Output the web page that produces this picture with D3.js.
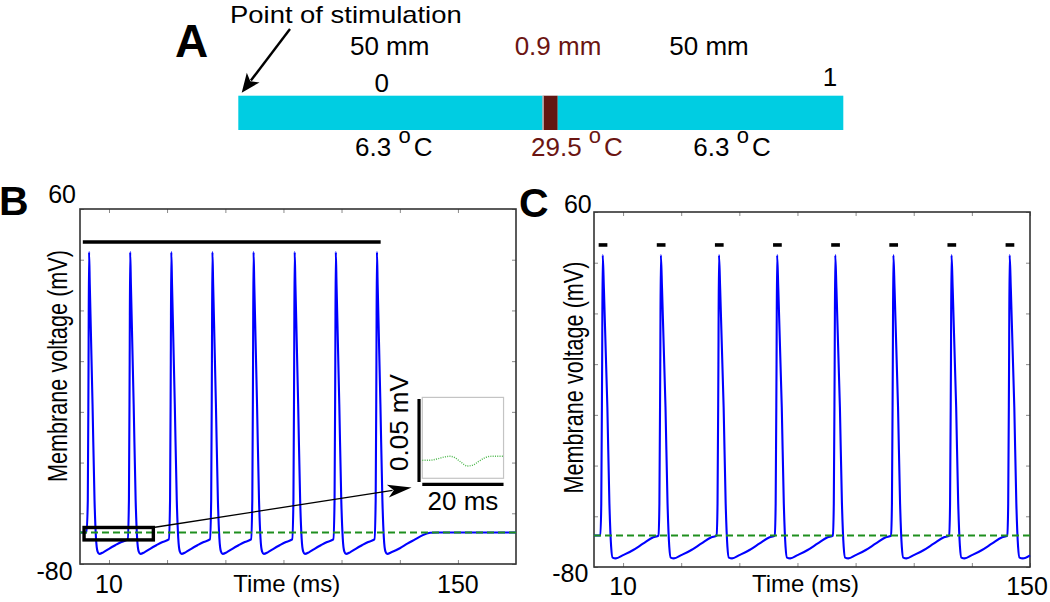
<!DOCTYPE html>
<html><head><meta charset="utf-8">
<script src="https://cdn.jsdelivr.net/npm/d3@7"></script>
<style>
body{margin:0;background:#fff}
svg{display:block;font-family:"Liberation Sans",Arial,Helvetica,sans-serif}
</style>
</head><body>
<svg id="fig" width="1050" height="602"></svg>
<script>
// ---------------- DATA ----------------
// Panel A: axon segments (normalised position along the axon)
const segStart   = [0, 0.503, 0.528];
const segEnd     = [0.503, 0.528, 1];
const segLength  = ["50 mm", "0.9 mm", "50 mm"];
const segTemp    = ["6.3", "29.5", "6.3"];
const hotSegment = 1;
const endLabels  = ["0", "1"];

// Shared axis ticks
const voltTicks      = [-80, -60, -40, -20, 0, 20, 40, 60];
const voltTickLabels = ["-80", "", "", "", "", "", "", "60"];
const timeTicksB      = [10, 33.3, 56.7, 80, 103.3, 126.7, 150];
const timeTickLabelsB = ["10", "", "", "", "", "", "150"];
const timeTicksC      = [10, 30, 50, 70, 90, 110, 130, 150];
const timeTickLabelsC = ["10", "", "", "", "", "", "", "150"];
const restPotential = -67.6;   // green dashed line (mV)
const stimLevel = 47;          // height of stimulus bars (mV)

// Panel B: membrane voltage trace [time ms, mV]
const traceB = [
 [-1.63,-67.6],[1.0,-67.6],[1.5,-55],[1.8,0],[2.0,43],[2.3,30],[3.4,-17],[4.2,-55],[4.8,-70],[5.4,-75],[6.1,-76],[7.7,-75.4],[10.0,-74.0],[12.5,-72.6],[15.0,-71.3],
 [17.5,-70.3],[18.0,-55],[18.3,0],[18.5,43],[18.8,30],[19.9,-17],[20.7,-55],[21.3,-70],[21.9,-75],[22.6,-76],[24.2,-75.4],[26.5,-74.0],[29.0,-72.6],[31.5,-71.3],
 [34.0,-70.3],[34.5,-55],[34.8,0],[35.0,43],[35.3,30],[36.4,-17],[37.2,-55],[37.8,-70],[38.4,-75],[39.1,-76],[40.7,-75.4],[43.0,-74.0],[45.5,-72.6],[48.0,-71.3],
 [50.5,-70.3],[51.0,-55],[51.3,0],[51.5,43],[51.8,30],[52.9,-17],[53.7,-55],[54.3,-70],[54.9,-75],[55.6,-76],[57.2,-75.4],[59.5,-74.0],[62.0,-72.6],[64.5,-71.3],
 [67.0,-70.3],[67.5,-55],[67.8,0],[68.0,43],[68.3,30],[69.4,-17],[70.2,-55],[70.8,-70],[71.4,-75],[72.1,-76],[73.7,-75.4],[76.0,-74.0],[78.5,-72.6],[81.0,-71.3],
 [83.5,-70.3],[84.0,-55],[84.3,0],[84.5,43],[84.8,30],[85.9,-17],[86.7,-55],[87.3,-70],[87.9,-75],[88.6,-76],[90.2,-75.4],[92.5,-74.0],[95.0,-72.6],[97.5,-71.3],
 [100.0,-70.3],[100.5,-55],[100.8,0],[101.0,43],[101.3,30],[102.4,-17],[103.2,-55],[103.8,-70],[104.4,-75],[105.1,-76],[106.7,-75.4],[109.0,-74.0],[111.5,-72.6],[114.0,-71.3],
 [116.5,-70.3],[117.0,-55],[117.3,0],[117.5,43],[117.8,30],[118.9,-17],[119.7,-55],[120.3,-70],[120.9,-75],[121.6,-76],
 [123.5,-75.3],[126.7,-73.8],[129.7,-72.0],[132.8,-70.3],[135.5,-68.8],[138.8,-67.7],[142.0,-67.6],[173.3,-67.6]
];
const stimB = [[-0.5, 119]];
const zoomBoxT = [0, 27.8];
const zoomBoxV = [-70.5, -65.6];

// Panel B inset: deviation trace (ms, mV)
const insetTime = [0, 2, 4, 5.5, 6.8, 8, 9.5, 11.1, 12.5, 14, 15.5, 17, 20];
const insetVolt = [0.0111, 0.0112, 0.0122, 0.0132, 0.0136, 0.0128, 0.0100, 0.0076, 0.0082, 0.0106, 0.0128, 0.0136, 0.0136];

// Panel C: membrane voltage trace [time ms, mV]
const traceC = [
 [0,-67.6],[2.2,-67.6],[2.5,-55],[2.8,0],[3.0,43],[3.4,30],[4.6,-17],[5.3,-55],[5.9,-72],[6.4,-76.3],[7.5,-76.6],[10.0,-75.3],[13.5,-73.3],[17.0,-70.7],[20.4,-68.3],
 [22.2,-67.6],[22.5,-55],[22.8,0],[23.0,43],[23.4,30],[24.6,-17],[25.3,-55],[25.9,-72],[26.4,-76.3],[27.5,-76.6],[30.0,-75.3],[33.5,-73.3],[37.0,-70.7],[40.4,-68.3],
 [42.2,-67.6],[42.5,-55],[42.8,0],[43.0,43],[43.4,30],[44.6,-17],[45.3,-55],[45.9,-72],[46.4,-76.3],[47.5,-76.6],[50.0,-75.3],[53.5,-73.3],[57.0,-70.7],[60.4,-68.3],
 [62.2,-67.6],[62.5,-55],[62.8,0],[63.0,43],[63.4,30],[64.6,-17],[65.3,-55],[65.9,-72],[66.4,-76.3],[67.5,-76.6],[70.0,-75.3],[73.5,-73.3],[77.0,-70.7],[80.4,-68.3],
 [82.2,-67.6],[82.5,-55],[82.8,0],[83.0,43],[83.4,30],[84.6,-17],[85.3,-55],[85.9,-72],[86.4,-76.3],[87.5,-76.6],[90.0,-75.3],[93.5,-73.3],[97.0,-70.7],[100.4,-68.3],
 [102.2,-67.6],[102.5,-55],[102.8,0],[103.0,43],[103.4,30],[104.6,-17],[105.3,-55],[105.9,-72],[106.4,-76.3],[107.5,-76.6],[110.0,-75.3],[113.5,-73.3],[117.0,-70.7],[120.4,-68.3],
 [122.2,-67.6],[122.5,-55],[122.8,0],[123.0,43],[123.4,30],[124.6,-17],[125.3,-55],[125.9,-72],[126.4,-76.3],[127.5,-76.6],[130.0,-75.3],[133.5,-73.3],[137.0,-70.7],[140.4,-68.3],
 [142.2,-67.6],[142.5,-55],[142.8,0],[143.0,43],[143.4,30],[144.6,-17],[145.3,-55],[145.9,-72],[146.4,-76.3],[147.5,-76.6],[150.0,-75.4]
];
const stimC = [[1.6,4.6],[21.6,24.6],[41.6,44.6],[61.6,64.6],[81.6,84.6],[101.6,104.6],[121.6,124.6],[141.6,144.6]];

// ---------------- DRAWING ----------------
const svg = d3.select("#fig");
const BROWN = "#6b1512";

function arrow(g, x1, y1, x2, y2, len, half, width) {
  const a = Math.atan2(y2 - y1, x2 - x1);
  const c = Math.cos(a), s = Math.sin(a);
  const bx = x2 - len * c, by = y2 - len * s;
  const px = -s * half, py = c * half;
  g.append("line").attr("x1", x1).attr("y1", y1).attr("x2", bx + len * 0.2 * c).attr("y2", by + len * 0.2 * s)
    .attr("stroke", "#000").attr("stroke-width", width);
  g.append("path").attr("d", `M${x2},${y2}L${bx+px},${by+py}L${bx+len*0.25*c},${by+len*0.25*s}L${bx-px},${by-py}Z`)
    .attr("fill", "#000");
}

// ---------- Panel A ----------
const gA = svg.append("g");
const axonX = d3.scaleLinear().domain([0, 1]).range([238.3, 843.3]);
const barTop = 95.7, barBot = 130;
gA.selectAll("rect.seg").data(segStart).join("rect").attr("class", "seg")
  .attr("x", d => axonX(d)).attr("width", (d, i) => axonX(segEnd[i]) - axonX(d))
  .attr("y", barTop).attr("height", barBot - barTop)
  .attr("fill", (d, i) => i === hotSegment ? "#621712" : "#00cde2");
gA.append("line").attr("x1", axonX(segStart[hotSegment]) + 0.5).attr("x2", axonX(segStart[hotSegment]) + 0.5)
  .attr("y1", barTop).attr("y2", barBot).attr("stroke", "#e8f4f4").attr("stroke-width", 1);

gA.append("text").attr("x", 175).attr("y", 56.7).attr("font-size", 46).attr("font-weight", "bold").text("A");
gA.append("text").attr("x", 230).attr("y", 23).attr("font-size", 24)
  .attr("textLength", 231.7).attr("lengthAdjust", "spacingAndGlyphs").text("Point of stimulation");
arrow(gA, 290, 29, 241.7, 92.7, 19, 8, 2.4);

const lenX = [389.7, 558, 709];
gA.selectAll("text.len").data(segLength).join("text").attr("class", "len")
  .attr("x", (d, i) => lenX[i]).attr("y", 55).attr("font-size", 26).attr("text-anchor", "middle")
  .attr("fill", (d, i) => i === hotSegment ? BROWN : "#000").text(d => d);

const endX = [381.7, 830], endY = [91.7, 85.7];
gA.selectAll("text.end").data(endLabels).join("text").attr("class", "end")
  .attr("x", (d, i) => endX[i]).attr("y", (d, i) => endY[i]).attr("font-size", 26)
  .attr("text-anchor", "middle").text(d => d);

const tempX = [355, 531, 693.3];
segTemp.forEach((t, i) => {
  const tx = gA.append("text").attr("x", tempX[i]).attr("y", 155.7).attr("font-size", 26)
    .attr("fill", i === hotSegment ? BROWN : "#000");
  tx.append("tspan").text(t + " ");
  tx.append("tspan").attr("font-size", 22).attr("dy", -12.5).text("o");
  tx.append("tspan").attr("dy", 12.5).attr("dx", 3).text("C");
});

// ---------- Panels B and C ----------
function panel(cfg) {
  const g = svg.append("g");
  const x = d3.scaleLinear().domain(cfg.xDomain).range([cfg.left, cfg.right]);
  const y = d3.scaleLinear().domain([-80, 60]).range([cfg.bottom, cfg.top]);

  const tick = (sel) => { sel.select(".domain").remove(); sel.selectAll("line").attr("stroke", "#8a8a8a").attr("stroke-width", 1); };
  g.append("g").attr("transform", `translate(0,${cfg.bottom})`).call(d3.axisBottom(x).tickValues(cfg.xTicks).tickSize(-4).tickFormat("")).call(tick);
  g.append("g").attr("transform", `translate(0,${cfg.top})`).call(d3.axisTop(x).tickValues(cfg.xTicks).tickSize(-4).tickFormat("")).call(tick);
  g.append("g").attr("transform", `translate(${cfg.left},0)`).call(d3.axisLeft(y).tickValues(voltTicks).tickSize(-4).tickFormat("")).call(tick);
  g.append("g").attr("transform", `translate(${cfg.right},0)`).call(d3.axisRight(y).tickValues(voltTicks).tickSize(-4).tickFormat("")).call(tick);

  g.append("rect").attr("x", cfg.left).attr("y", cfg.top).attr("width", cfg.right - cfg.left).attr("height", cfg.bottom - cfg.top)
    .attr("fill", "none").attr("stroke", "#333").attr("stroke-width", 1.6);

  const ln = d3.line().x(d => x(d[0])).y(d => y(d[1])).curve(d3.curveMonotoneX);
  g.append("path").datum(cfg.trace).attr("d", ln).attr("fill", "none").attr("stroke", "#0000ff")
    .attr("stroke-width", 2.1).attr("stroke-linejoin", "round");

  g.append("line").attr("x1", x(cfg.xDomain[0])).attr("x2", x(cfg.xDomain[1]))
    .attr("y1", y(restPotential)).attr("y2", y(restPotential))
    .attr("stroke", "#1f8f1f").attr("stroke-width", 2).attr("stroke-dasharray", "7,4");

  g.selectAll("line.stim").data(cfg.stim).join("line").attr("class", "stim")
    .attr("x1", d => x(d[0])).attr("x2", d => x(d[1])).attr("y1", y(stimLevel)).attr("y2", y(stimLevel))
    .attr("stroke", "#000").attr("stroke-width", 3.6);

  voltTicks.forEach((v, i) => {
    const lab = voltTickLabels[i]; if (!lab) return;
    const o = cfg.yLab[lab];
    g.append("text").attr("x", cfg.left + o[0]).attr("y", y(v) + o[1]).attr("text-anchor", "end")
      .attr("font-size", 25).text(lab);
  });
  cfg.xTicks.forEach((t, i) => {
    const lab = cfg.xLabels[i]; if (!lab) return;
    g.append("text").attr("x", x(t) + (cfg.xLabDx[lab] || 0)).attr("y", cfg.xLabY).attr("text-anchor", "middle")
      .attr("font-size", 25).text(lab);
  });
  g.append("text").attr("x", cfg.titleX).attr("y", cfg.titleY).attr("text-anchor", "middle")
    .attr("font-size", 24).text("Time (ms)");
  g.append("text").attr("transform", `translate(${cfg.yTitleX},${cfg.yTitleY}) rotate(-90)`)
    .attr("text-anchor", "middle").attr("font-size", 28)
    .attr("textLength", 232).attr("lengthAdjust", "spacingAndGlyphs").text("Membrane voltage (mV)");
  g.append("text").attr("x", cfg.letterX).attr("y", cfg.letterY).attr("font-size", 41).attr("font-weight", "bold").text(cfg.letter);
  return { g, x, y };
}

const B = panel({
  left: 80, right: 516, top: 209, bottom: 564, xDomain: [-1.63, 173.3],
  xTicks: timeTicksB, xLabels: timeTickLabelsB, xLabDx: {}, xLabY: 593,
  trace: traceB, stim: stimB,
  yLab: { "60": [-4, -5.7], "-80": [-7.3, 16] },
  titleX: 286.7, titleY: 592, yTitleX: 66.5, yTitleY: 366,
  letter: "B", letterX: -1, letterY: 215
});
const C = panel({
  left: 594, right: 1030, top: 212, bottom: 567, xDomain: [0, 150],
  xTicks: timeTicksC, xLabels: timeTickLabelsC, xLabDx: { "150": -3 }, xLabY: 595,
  trace: traceC, stim: stimC,
  yLab: { "60": [-2.3, 1.3], "-80": [-5.7, 14.7] },
  titleX: 805.5, titleY: 592, yTitleX: 583.3, yTitleY: 377.5,
  letter: "C", letterX: 519, letterY: 216.7
});

// zoom box in panel B
B.g.append("rect").attr("x", B.x(zoomBoxT[0])).attr("y", B.y(zoomBoxV[1]))
  .attr("width", B.x(zoomBoxT[1]) - B.x(zoomBoxT[0])).attr("height", B.y(zoomBoxV[0]) - B.y(zoomBoxV[1]))
  .attr("fill", "none").attr("stroke", "#000").attr("stroke-width", 3.4);
arrow(B.g, B.x(zoomBoxT[1]), B.y(zoomBoxV[1]), B.x(131.4), B.y(-49.8), 24, 6.5, 1.3);

// inset
const insetT = [135.7, 168.3], insetV = [-46.2, -14.3];
const ix = d3.scaleLinear().domain([0, 20]).range([B.x(insetT[0]), B.x(insetT[1])]);
const iy = d3.scaleLinear().domain([0, 0.05]).range([B.y(insetV[0]), B.y(insetV[1])]);
const gi = B.g.append("g");
gi.append("rect").attr("x", ix(0)).attr("y", iy(0.05)).attr("width", ix(20) - ix(0)).attr("height", iy(0) - iy(0.05))
  .attr("fill", "#fff").attr("stroke", "#c4c4c4").attr("stroke-width", 1.2);
gi.append("path").datum(insetTime.map((t, i) => [t, insetVolt[i]]))
  .attr("d", d3.line().x(d => ix(d[0])).y(d => iy(d[1])).curve(d3.curveMonotoneX))
  .attr("fill", "none").attr("stroke", "#4cb84c").attr("stroke-width", 1.4).attr("stroke-dasharray", "1,1.3");
gi.append("line").attr("x1", ix(-0.8)).attr("x2", ix(-0.8)).attr("y1", iy(-0.0023)).attr("y2", iy(0.049))
  .attr("stroke", "#000").attr("stroke-width", 3.2);
gi.append("line").attr("x1", ix(0)).attr("x2", ix(20)).attr("y1", iy(-0.0037)).attr("y2", iy(-0.0037))
  .attr("stroke", "#000").attr("stroke-width", 3.2);
gi.append("text").attr("transform", `translate(${ix(-0.8) - 11},${iy(-0.0023) - 11}) rotate(-90)`)
  .attr("font-size", 26).text("0.05 mV");
gi.append("text").attr("x", (ix(0) + ix(20)) / 2).attr("y", iy(-0.0037) + 26).attr("text-anchor", "middle")
  .attr("font-size", 26).text("20 ms");
</script>
</body></html>
